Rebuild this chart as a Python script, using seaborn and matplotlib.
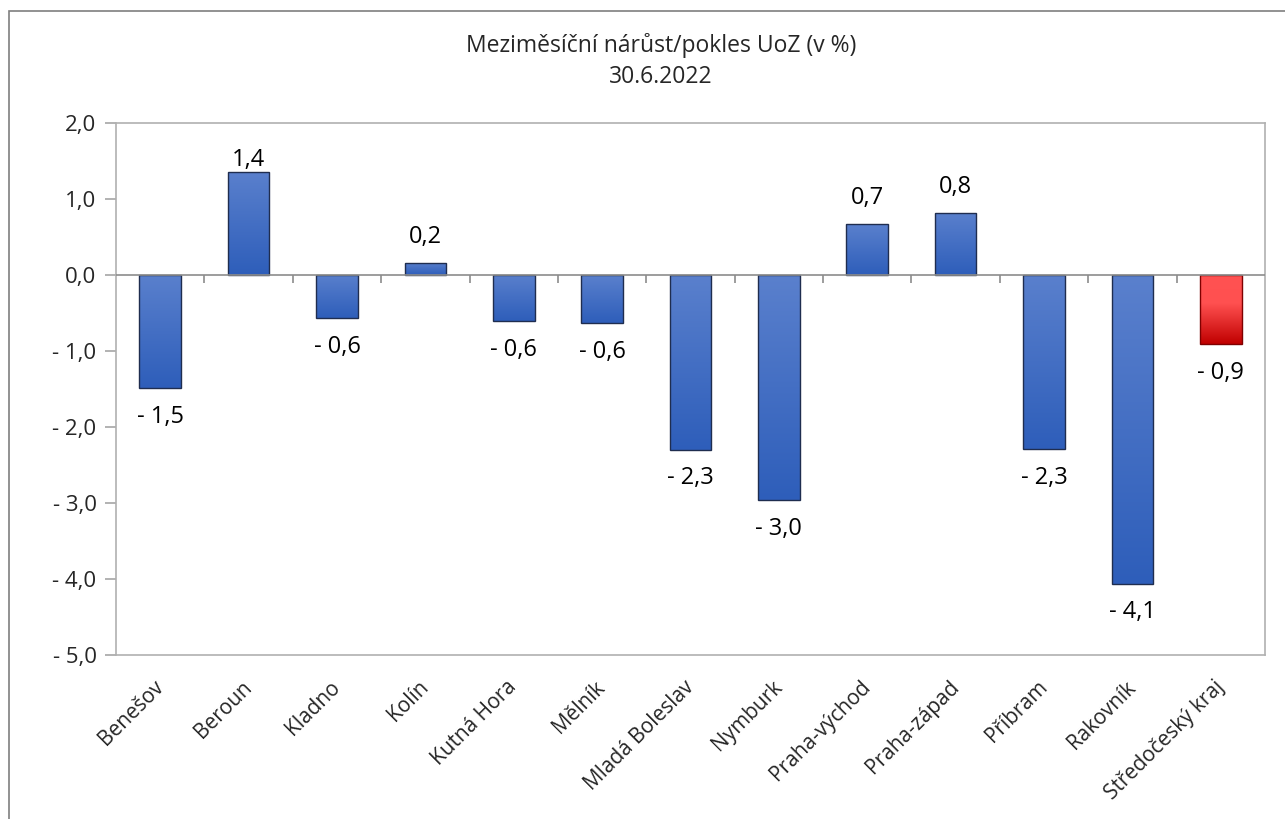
import numpy as np
import pandas as pd
import matplotlib.pyplot as plt
import seaborn as sns
from matplotlib.colors import LinearSegmentedColormap
from matplotlib.patches import Rectangle

# Data
categories = ['Benešov', 'Beroun', 'Kladno', 'Kolín', 'Kutná Hora', 'Mělník',
              'Mladá Boleslav', 'Nymburk', 'Praha-východ', 'Praha-západ',
              'Příbram', 'Rakovník', 'Středočeský kraj']
values = [-1.49, 1.36, -0.57, 0.16, -0.61, -0.63, -2.30, -2.96, 0.67, 0.82,
          -2.29, -4.06, -0.91]
highlight = 'Středočeský kraj'
yticks = [2, 1, 0, -1, -2, -3, -4, -5]


def cz(v):
    s = f"{abs(v):.1f}".replace('.', ',')
    return s if v >= -0.05 else '- ' + s


sns.set_theme(style='white')
plt.rcParams['font.family'] = ['Open Sans', 'DejaVu Sans']

df = pd.DataFrame({'okres': categories, 'zmena': values})

fig = plt.figure(figsize=(12.85, 8.19), dpi=100)
ax = fig.add_axes([116 / 1285, 1 - 655 / 819, 1149 / 1285, 532 / 819])

sns.barplot(data=df, x='okres', y='zmena', color='#4472C4', width=0.47,
            edgecolor='#1F2D4F', linewidth=1.0, ax=ax, zorder=3)

blue = LinearSegmentedColormap.from_list('b', ['#5A80CD', '#2E5EBA'])
red = LinearSegmentedColormap.from_list('r', [(0, '#FF5252'), (0.42, '#FF5050'), (1, '#C00000')])
grad = np.linspace(0, 1, 256).reshape(-1, 1)

for name, p in zip(categories, ax.patches):
    x0 = p.get_x()
    w = p.get_width()
    y0, y1 = sorted([p.get_y(), p.get_y() + p.get_height()])
    cmap = red if name == highlight else blue
    p.set_facecolor('none')
    if name == highlight:
        p.set_edgecolor('#7F0000')
    im = ax.imshow(grad, cmap=cmap, extent=[x0, x0 + w, y0, y1], origin='upper',
                   aspect='auto', zorder=2, interpolation='bilinear')
    im.set_clip_path(p)

ax.set_xlim(-0.5, len(categories) - 0.5)
ax.set_ylim(-5, 2)

# value labels
for i, v in enumerate(values):
    if v >= 0:
        off = 10 if v < 1.2 else 0
        ax.annotate(cz(v), (i, v), xytext=(0, off), textcoords='offset points',
                    ha='center', va='bottom', fontsize=17, color='black')
    else:
        ax.annotate(cz(v), (i, v), xytext=(0, -12), textcoords='offset points',
                    ha='center', va='top', fontsize=17, color='black')

# zero line with category separators
ax.axhline(0, color='#8C8C8C', lw=1.2, zorder=4)
seps = np.arange(1, len(categories)) - 0.5
ax.vlines(seps, -0.105, 0, color='#8C8C8C', lw=1.2, zorder=4)

ax.set_yticks(yticks)
ax.set_yticklabels([cz(t) for t in yticks], fontsize=16)
ax.set_xticks(range(len(categories)))
ax.set_xticklabels(categories, rotation=45, ha='right', va='center',
                   rotation_mode='anchor', fontsize=15)
ax.tick_params(axis='x', length=0, pad=21)
ax.tick_params(axis='y', length=8, width=1.2, color='#A6A6A6', direction='out',
               left=True, pad=6)
ax.set_xlabel('')
ax.set_ylabel('')
for s in ax.spines.values():
    s.set_visible(True)
    s.set_color('#B0B0B0')
    s.set_linewidth(1.2)

fig.text(661 / 1285, 1 - 45 / 819, 'Meziměsíční nárůst/pokles UoZ (v %)',
         ha='center', va='center', fontsize=16.5)
fig.text(661 / 1285, 1 - 77 / 819, '30.6.2022', ha='center', va='center',
         fontsize=16.5)

# outer chart border (only top/left visible in the frame)
fig.patches.append(Rectangle((9 / 1285, -0.1), 1.2, 1 - 11 / 819 + 0.1,
                             transform=fig.transFigure, fill=False,
                             edgecolor='#7F7F7F', lw=1.2))

fig.savefig('out.png', dpi=100, facecolor='white')
